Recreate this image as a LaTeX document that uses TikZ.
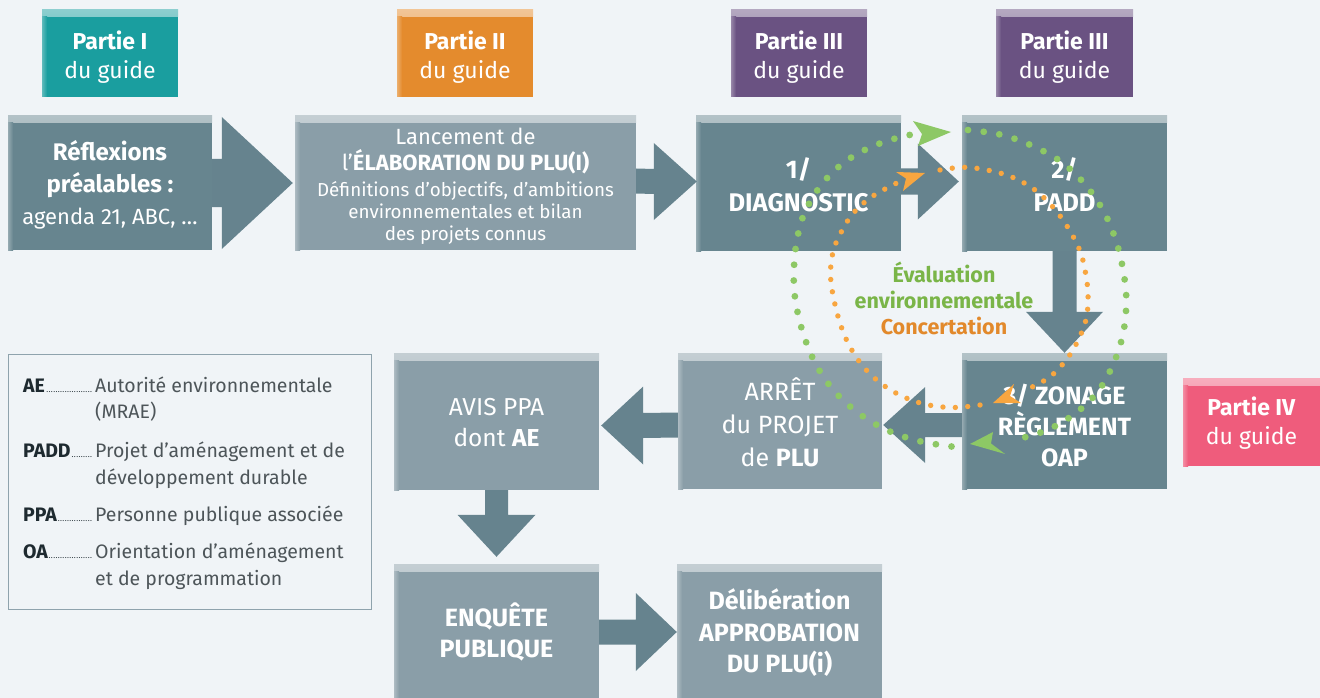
\documentclass[tikz,border=0pt]{standalone}
\usepackage{fontspec}
\setmainfont{Fira Sans}
\usetikzlibrary{calc}
\definecolor{bgc}{HTML}{F0F4F7}
\definecolor{darkc}{HTML}{67858F}
\definecolor{lightc}{HTML}{8A9EA8}
\definecolor{arrowc}{HTML}{66838E}
\definecolor{tealc}{HTML}{1A9E9F}
\definecolor{orgc}{HTML}{E48B2D}
\definecolor{purc}{HTML}{6A5282}
\definecolor{pinkc}{HTML}{EF5C7C}
\definecolor{gdotc}{HTML}{8DC865}
\definecolor{odotc}{HTML}{F8A640}
\definecolor{gtxt}{HTML}{7AB548}
\definecolor{otxt}{HTML}{E2892B}
\definecolor{legb}{HTML}{8FA3AD}
\definecolor{legt}{HTML}{4D5559}
\definecolor{legk}{HTML}{1E2A30}
\newcommand\fs[2]{\fontsize{#1}{#2}\selectfont}
\tikzset{
  bx/.style={fill=#1, inner sep=0pt,
    path picture={
      \shade[top color=#1!50!white, bottom color=#1]
        (path picture bounding box.north west) rectangle ([yshift=-7pt]path picture bounding box.north east);
      \shade[left color=#1!70!white, right color=#1]
        ([yshift=-7pt]path picture bounding box.north west) rectangle ([xshift=5pt]path picture bounding box.south west);
    }},
  boxtext/.style={text=white, align=center, inner sep=0pt},
  arrowfill/.style={fill=arrowc},
  gdots/.style={draw=gdotc, line width=6.8pt, line cap=round, dash pattern=on 0pt off 15.8pt},
  odots/.style={draw=odotc, line width=5.4pt, line cap=round, dash pattern=on 0pt off 12.4pt},
  legline/.style={anchor=base west, inner sep=0pt, text=legt, font=\fs{19.5}{26}},
  legframe/.style={draw=legb, line width=1pt, inner sep=0pt},
  evlabel/.style={font=\bfseries\fs{21.5}{26}, align=center, inner sep=0pt},
}
% [text offset] name, x0, y0, x1, y1, colour, font, text
\newcommand\mybox[9][0]{%
  \node[bx=#7, minimum width=#5pt-#3pt, minimum height=#6pt-#4pt] (#2) at ({(#3+#5)/2},{(#4+#6)/2}) {};
  \node[boxtext, font={#8}] (#2-t) at ($(#2.center)+(0,#1)$) {#9};}
% block arrows: start, tip, head length, shaft half width, head half width
\newcommand\rarr[5]{\fill[arrowfill] ($(#1)+(0,-#4)$) -- ($(#2)+(-#3,-#4)$) -- ($(#2)+(-#3,-#5)$) -- (#2) -- ($(#2)+(-#3,#5)$) -- ($(#2)+(-#3,#4)$) -- ($(#1)+(0,#4)$) -- cycle;}
\newcommand\larr[5]{\fill[arrowfill] ($(#1)+(0,-#4)$) -- ($(#2)+(#3,-#4)$) -- ($(#2)+(#3,-#5)$) -- (#2) -- ($(#2)+(#3,#5)$) -- ($(#2)+(#3,#4)$) -- ($(#1)+(0,#4)$) -- cycle;}
\newcommand\darr[5]{\fill[arrowfill] ($(#1)+(-#4,0)$) -- ($(#2)+(-#4,-#3)$) -- ($(#2)+(-#5,-#3)$) -- (#2) -- ($(#2)+(#5,-#3)$) -- ($(#2)+(#4,-#3)$) -- ($(#1)+(#4,0)$) -- cycle;}
\newcommand\legkey[1]{\hbox to 72pt{\color{legk}\bfseries #1\mdseries\leaders\hbox to 2.3pt{\hss\fs{8}{8}.\hss}\hfill\hskip1pt}}
\begin{document}
\begin{tikzpicture}[x=1pt,y=-1pt]
\fill[bgc] (0,0) rectangle (1320,698);
\useasboundingbox (0,0) rectangle (1320,698);

% Partie labels
\mybox[4]{p1}{42}{10}{178}{97}{tealc}{\fs{23}{29}}{\textbf{Partie I}\\du guide}
\mybox[4]{p2}{397}{10}{533}{97}{orgc}{\fs{23}{29}}{\textbf{Partie II}\\du guide}
\mybox[4]{p3}{731}{10}{867}{97}{purc}{\fs{23}{29}}{\textbf{Partie III}\\du guide}
\mybox[4]{p4}{996}{10}{1133}{97}{purc}{\fs{23}{29}}{\textbf{Partie III}\\du guide}
\mybox[1.5]{p5}{1183}{378}{1320}{466}{pinkc}{\fs{23}{29}}{\textbf{Partie IV}\\du guide}

% process boxes
\mybox[2]{refl}{8}{116}{212}{250}{darkc}{\fs{24}{32}}{\textbf{Réflexions}\\\textbf{préalables :}\\{\fs{22}{32}agenda 21, ABC, …}}
\mybox[3]{lanc}{295}{116}{636}{250}{lightc}{\fs{22}{26}}{Lancement de\\l’\textbf{ÉLABORATION DU PLU(I)}\\{\fs{18.8}{22}Définitions d’objectifs, d’ambitions}\\[-4pt]{\fs{18.8}{22}environnementales et bilan}\\[-4pt]{\fs{18.8}{22}des projets connus}}
\mybox[1.5]{diag}{696}{116}{901}{251}{darkc}{\bfseries\fs{25.5}{33}}{1/\\DIAGNOSTIC}
\mybox[1.5]{padd}{962}{116}{1167}{251}{darkc}{\bfseries\fs{25.5}{33}}{2/\\PADD}
\mybox[4.5]{zon}{962}{353}{1167}{489}{darkc}{\bfseries\fs{25}{31}}{3/ ZONAGE\\RÈGLEMENT\\OAP}
\mybox[1]{arr}{678}{353}{882}{489}{lightc}{\fs{25}{33}}{ARRÊT\\du PROJET\\de \textbf{PLU}}
\mybox[1]{avis}{394}{353}{599}{490}{lightc}{\fs{24.5}{31}}{AVIS PPA\\dont \textbf{AE}}
\mybox[1]{enq}{394}{564}{599}{698}{lightc}{\bfseries\fs{25}{31}}{ENQUÊTE\\PUBLIQUE}
\mybox[2]{del}{677}{564}{882}{698}{lightc}{\bfseries\fs{25}{31.5}}{Délibération\\APPROBATION\\DU PLU(i)}

% block arrows
\coordinate (a1t) at ($(lanc.west)+(-2,0)$);
\rarr{refl.east}{a1t}{71}{24}{66}
\coordinate (a2s) at ($(lanc.east)+(0,-2)$);
\coordinate (a2t) at ($(diag.west)+(1,-2)$);
\rarr{a2s}{a2t}{43}{12.5}{38.5}
\coordinate (a3s) at ($(diag.east)+(0,-2)$);
\coordinate (a3t) at ($(padd.west)+(-3,-2)$);
\rarr{a3s}{a3t}{41}{13}{38}
\darr{padd.south}{zon.north}{41}{12}{38.5}
\coordinate (a5s) at ($(zon.west)+(0,4)$);
\coordinate (a5t) at ($(arr.east)+(1,4)$);
\larr{a5s}{a5t}{42}{12}{38}
\coordinate (a6s) at ($(arr.west)+(0,4)$);
\coordinate (a6t) at ($(avis.east)+(2,4)$);
\larr{a6s}{a6t}{42}{12.5}{39}
\coordinate (a7t) at ($(enq.north)+(0,-7)$);
\darr{avis.south}{a7t}{42}{11.5}{39}
\coordinate (a8s) at ($(enq.east)+(0,1)$);
\coordinate (a8t) at ($(del.west)+(0,1)$);
\rarr{a8s}{a8t}{41}{12.5}{39}

% legend
\node[legframe, minimum width=363pt, minimum height=255pt] (leg) at (189.5,481.5) {};
\node[legline] (l1) at (23,392) {\legkey{AE}Autorité environnementale};
\node[legline] (l1b) at (95,418) {(MRAE)};
\node[legline] (l2) at (23,457) {\legkey{PADD}Projet d’aménagement et de};
\node[legline] (l2b) at (95,484) {développement durable};
\node[legline] (l3) at (23,521) {\legkey{PPA}Personne publique associée};
\node[legline] (l4) at (23,558) {\legkey{OA}Orientation d’aménagement};
\node[legline] (l4b) at (95,585) {et de programmation};

% central label
\node[evlabel] (evl) at (944,298) {\textcolor{gtxt}{Évaluation}\\\textcolor{gtxt}{environnementale}\\\textcolor{otxt}{Concertation}};

% green dotted loop
\draw[gdots] plot[smooth, tension=0.6] coordinates {(968,130) (1001,134.7) (1032,145.7) (1061,161.7) (1085,184.3) (1104,212) (1116.6,242.7) (1123.8,274) (1126.3,302.7) (1123,334) (1113.3,364) (1097.7,391.7) (1075.4,413.3) (1047.2,430) (1018,439)};
\draw[gdots] plot[smooth, tension=0.6] coordinates {(951.5,446.5) (918.8,441) (887.3,430.3) (858.7,413.3) (834.2,391) (815.7,364) (803.1,333.3) (795.5,301) (793.8,272.7) (796.8,240.7) (805,211.7) (822,184) (844.3,162.3) (871.7,146.7) (901.6,136.7) (917,134)};
\coordinate (gt1) at (951,132);
\coordinate (gt2) at (970,444);
\fill[gdotc] (gt1) -- (913,121) -- (922,134) -- (918,146) -- cycle;
\fill[gdotc] (gt2) -- (993,432) -- (991,443.5) -- (1005,454) -- cycle;

% orange dotted loop
\draw[odots] plot[smooth, tension=0.6] coordinates {(940,170) (964.3,167.3) (990.4,170.7) (1013.5,177.7) (1035,190) (1053.5,207.7) (1068.2,228) (1079.6,250) (1085,270) (1088,294) (1086.3,318.3) (1077.9,340.7) (1066.1,360) (1049.3,377.3) (1028,389)};
\draw[odots] plot[smooth, tension=0.6] coordinates {(980,405) (954,407.5) (928.5,405) (905.4,397.7) (883.1,385) (864.5,368) (850.2,347.3) (841,326) (834,300) (830.5,275) (833,252) (840.1,234.3) (852.3,214.3) (869.6,198.3) (890.7,186) (901.7,181)};
\coordinate (ot1) at (925,173);
\coordinate (ot2) at (993,403);
\fill[odotc] (ot1) -- (896,172) -- (906,178.5) -- (903,191) -- cycle;
\fill[odotc] (ot2) -- (1014,384) -- (1010,396) -- (1021,403) -- cycle;
\end{tikzpicture}
\end{document}
